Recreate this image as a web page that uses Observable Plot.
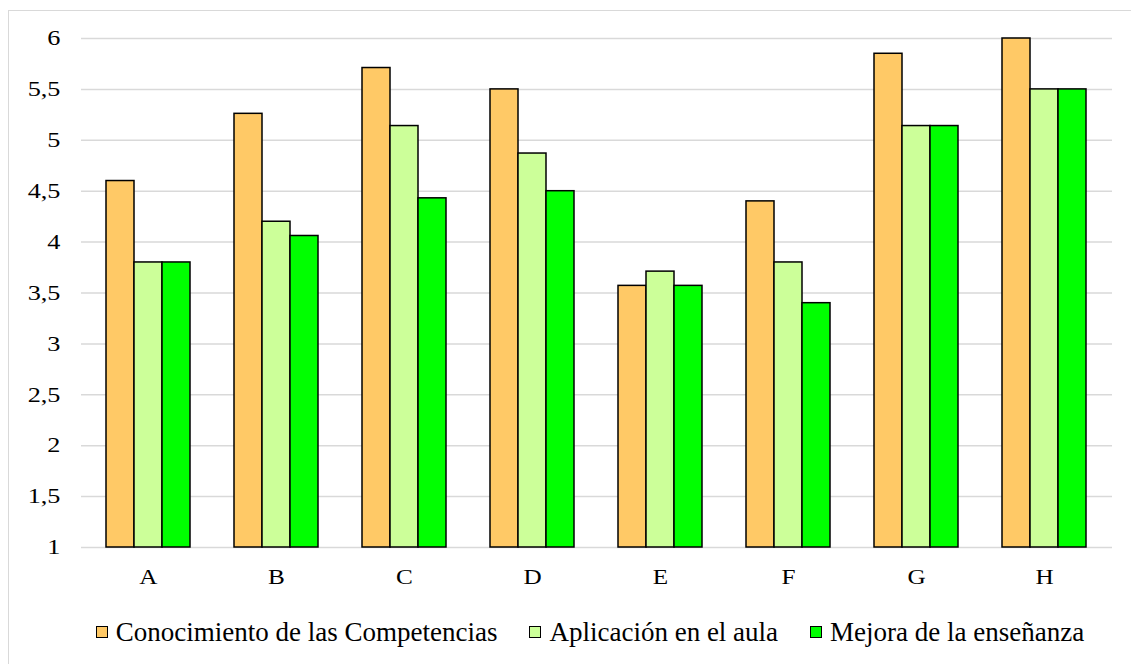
<!DOCTYPE html>
<html><head><meta charset="utf-8">
<script src="https://cdn.jsdelivr.net/npm/d3@7"></script>
<script src="https://cdn.jsdelivr.net/npm/@observablehq/plot@0.6"></script>
<style>
body{margin:0;background:#fff;}
#wrap{position:relative;width:1131px;height:664px;overflow:hidden;font-family:"Liberation Serif","Times New Roman",serif;background:#fff;}
#frame{position:absolute;left:8px;top:10px;width:1140px;height:670px;border:1px solid #d9d9d9;box-sizing:border-box;}
.layer{position:absolute;left:0;top:0;}
#legend{position:absolute;left:0;top:617px;width:1180px;text-align:center;line-height:30px;font-size:27px;color:#000;white-space:nowrap;}
#legend .item{display:inline-block;margin:0 16px;}
#legend .sw{display:inline-block;width:10px;height:10px;border:1px solid #000;margin:0 8px 3px 0;vertical-align:baseline;}
</style>
</head><body>
<div id="wrap"><div id="frame"></div></div>
<script>
const categories = ["A","B","C","D","E","F","G","H"];
const seriesNames = ["Conocimiento de las Competencias","Aplicación en el aula","Mejora de la enseñanza"];
const conocimiento = [4.6, 5.26, 5.71, 5.5, 3.57, 4.4, 5.85, 6.0];
const aplicacion   = [3.8, 4.2, 5.14, 4.87, 3.71, 3.8, 5.14, 5.5];
const mejora       = [3.8, 4.06, 4.43, 4.5, 3.57, 3.4, 5.14, 5.5];
const seriesColors = ["#FFC966","#CCFF99","#00FF00"];
const yTicks = [1,1.5,2,2.5,3,3.5,4,4.5,5,5.5,6];
const yTickLabels = ["1","1,5","2","2,5","3","3,5","4","4,5","5","5,5","6"];

const seriesValues = [conocimiento, aplicacion, mejora];
const rows = [];
categories.forEach((c, i) => seriesNames.forEach((s, j) => rows.push({cat: c, series: s, value: seriesValues[j][i]})));

const W = 1131, H = 600;
const margins = {marginLeft: 81, marginRight: 19, marginTop: 38, marginBottom: 53};
const fontStyle = {fontFamily: '"Liberation Serif","Times New Roman",serif', fontSize: "21px", color: "#000", background: "transparent"};

const wrap = document.getElementById("wrap");

const bg = Plot.plot({
  width: W, height: H, ...margins,
  style: fontStyle,
  y: {domain: [1, 6], ticks: yTicks, tickFormat: d => yTickLabels[yTicks.indexOf(d)], tickSize: 0, tickPadding: 21, label: null},
  marks: [
    Plot.ruleY(yTicks, {stroke: "#d9d9d9", strokeWidth: 1.5})
  ]
});
bg.classList.add("layer");
wrap.appendChild(bg);

const bars = Plot.plot({
  width: W, height: H, ...margins,
  style: fontStyle,
  fx: {domain: categories, paddingInner: 0.325, paddingOuter: 0.1625, axis: "bottom", label: null, tickSize: 0, tickPadding: 22},
  x: {domain: seriesNames, padding: 0, axis: null},
  y: {domain: [1, 6], axis: null},
  color: {domain: seriesNames, range: seriesColors},
  marks: [
    Plot.barY(rows, {fx: "cat", x: "series", y1: () => 1, y2: "value", fill: "series", stroke: "#000", strokeWidth: 1.5})
  ]
});
bars.classList.add("layer");
wrap.appendChild(bars);

function stretch(svg, sel, s, anchor) {
  svg.querySelectorAll(sel).forEach(t => {
    const b = t.getBBox();
    const ax = anchor === "end" ? b.x + b.width : b.x + b.width / 2;
    const tr = t.getAttribute("transform") || "";
    t.setAttribute("transform", `${tr} translate(${ax},0) scale(${s},1) translate(${-ax},0)`);
  });
}
stretch(bg, 'g[aria-label="y-axis tick label"] text', 1.25, "end");
stretch(bars, 'g[aria-label="fx-axis tick label"] text', 1.2, "middle");

const legend = document.createElement("div");
legend.id = "legend";
seriesNames.forEach((s, j) => {
  const it = document.createElement("span");
  it.className = "item";
  const sw = document.createElement("span");
  sw.className = "sw";
  sw.style.background = seriesColors[j];
  it.appendChild(sw);
  it.appendChild(document.createTextNode(s));
  legend.appendChild(it);
});
wrap.appendChild(legend);
</script>
</body></html>
